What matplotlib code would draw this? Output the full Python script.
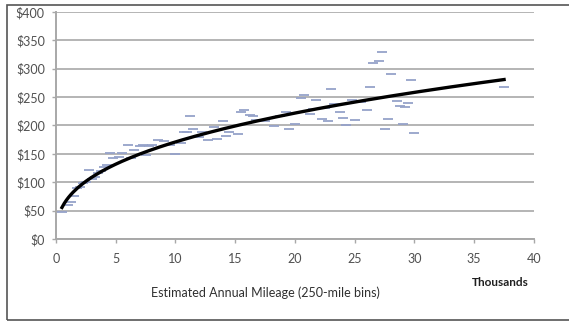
import numpy as np
import matplotlib.pyplot as plt
from matplotlib.patches import Rectangle

# Annual mileage (thousands, 250-mile bins) and average cost per bin ($)
mileage = [0.5, 1.0, 1.25, 1.5, 1.75, 2.0, 2.25, 2.5, 2.75, 3.0, 3.25, 3.5,
           3.75, 4.0, 4.25, 4.5, 4.75, 5.25, 5.5, 6.0, 6.25, 6.5, 7.0, 7.25,
           7.5, 7.75, 8.0, 8.5, 9.0, 9.5, 10.0, 10.5, 10.75, 11.0, 11.25, 11.5,
           12.0, 12.25, 12.75, 13.25, 13.5, 14.0, 14.25, 14.5, 15.25, 15.5,
           15.75, 16.25, 16.5, 16.75, 17.5, 18.25, 18.75, 19.25, 19.5, 19.75,
           20.0, 20.5, 20.75, 21.25, 21.5, 21.75, 22.25, 22.5, 22.75, 23.0,
           23.25, 23.75, 24.0, 24.25, 24.75, 25.0, 25.5, 26.0, 26.25, 26.5,
           27.0, 27.25, 27.5, 27.75, 28.0, 28.5, 28.75, 29.0, 29.25, 29.5,
           29.75, 30.0, 37.5]
cost = [47, 60, 66, 75, 89, 92, 98, 101, 121, 105, 110, 116,
        119, 127, 130, 151, 142, 145, 152, 166, 142, 157, 163, 166,
        148, 163, 166, 174, 172, 166, 149, 169, 188, 189, 216, 193,
        180, 189, 174, 197, 177, 208, 182, 189, 185, 223,
        227, 218, 217, 210, 208, 199, 216, 223, 193, 222,
        203, 248, 254, 221, 229, 245, 211, 231, 208, 264,
        237, 223, 213, 201, 245, 210, 242, 227, 267, 310,
        314, 329, 194, 211, 291, 243, 235, 202, 233, 239,
        280, 186, 267]

ytick_vals = np.arange(0, 401, 50)
ytick_labels = ["$" + str(v) for v in ytick_vals]

plt.rcParams["font.family"] = ["Lato", "DejaVu Sans"]

fig = plt.figure(figsize=(5.69, 3.22), dpi=100)
ax = fig.add_axes([0.0984, 0.2578, 0.840, 0.705])

# Scatter of binned costs drawn as short dashes
ax.plot(mileage, cost, linestyle="none", marker="_", markersize=7,
        markeredgewidth=1.3, color="#95a2c9", zorder=3)

# Power trendline fitted on the data
x = np.array(mileage)
y = np.array(cost)
b, log_a = np.polyfit(np.log(x), np.log(y), 1)
xs = np.linspace(x.min(), x.max(), 200)
ax.plot(xs, np.exp(log_a) * xs ** b, color="black", linewidth=2.4, zorder=4)

# Formatting
ax.set_xlim(0, 40)
ax.set_ylim(0, 400)
ax.set_xticks(range(0, 41, 5))
ax.set_yticks(ytick_vals)
ax.set_yticklabels(ytick_labels)
ax.grid(axis="y", color="#b4b4b4", linewidth=1.4)
ax.set_axisbelow(True)
for side in ["top", "right"]:
    ax.spines[side].set_visible(False)
for side in ["left", "bottom"]:
    ax.spines[side].set_color("#a8a8a8")
    ax.spines[side].set_linewidth(1.4)
ax.tick_params(axis="both", colors="#a8a8a8", labelcolor="#505050",
               labelsize=9, length=3, width=1)
ax.tick_params(axis="x", pad=7)
ax.tick_params(axis="y", pad=5)

fig.text(500 / 569, 1 - 282 / 322, "Thousands", fontsize=8.5, fontweight="bold",
         color="#202020", ha="center", va="center")
fig.text(265 / 569, 1 - 293 / 322, "Estimated Annual Mileage (250-mile bins)",
         fontsize=9, color="#303030", ha="center", va="center")

# Outer frame of the chart
fig.patches.append(Rectangle((7 / 569, 2 / 322), 1.1, 1 - 7 / 322,
                             transform=fig.transFigure, fill=False,
                             edgecolor="#555555", linewidth=1.2))

fig.savefig("out.png", dpi=100)
